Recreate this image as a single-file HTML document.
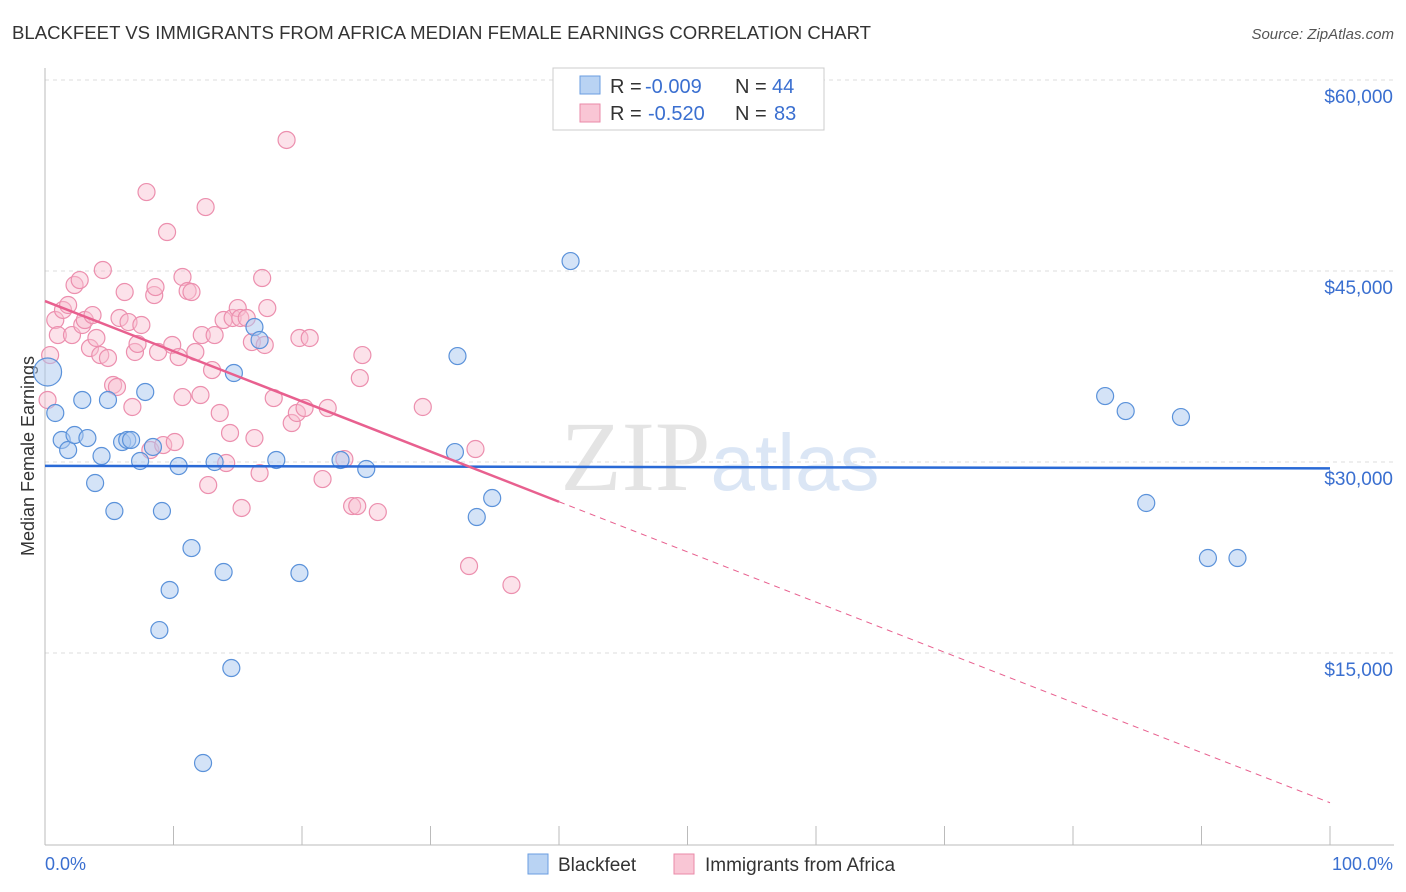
<!DOCTYPE html>
<html><head><meta charset="utf-8"><style>
body{margin:0;background:#fff;font-family:"Liberation Sans",sans-serif}
svg{display:block}
</style></head><body>
<svg id="chart" width="1406" height="892">
<text x="12" y="39" font-size="18" fill="#333" textLength="859" lengthAdjust="spacingAndGlyphs">BLACKFEET VS IMMIGRANTS FROM AFRICA MEDIAN FEMALE EARNINGS CORRELATION CHART</text>
<text x="1394" y="39" font-size="15" fill="#555" font-style="italic" text-anchor="end">Source: ZipAtlas.com</text>
<text x="34" y="456" font-size="18" fill="#333" text-anchor="middle" transform="rotate(-90 34 456)">Median Female Earnings</text>
<text x="720" y="490" font-size="100" fill="#e4e4e4" text-anchor="middle" font-family="Liberation Serif,serif">ZIP<tspan fill="#dbe6f5" font-family="Liberation Sans,sans-serif" font-size="80">atlas</tspan></text>
<g id="grid"></g><g id="marks"></g>
<g>
<rect x="553" y="68" width="271" height="62" fill="#fff" stroke="#ccc"/>
<rect x="580" y="76" width="20" height="18" fill="#b9d3f3" stroke="#6a9ee0"/>
<text x="610" y="93" font-size="20" fill="#333">R =</text>
<text x="645" y="93" font-size="20" fill="#3a6fd0">-0.009</text>
<text x="735" y="93" font-size="20" fill="#333">N =</text>
<text x="772" y="93" font-size="20" fill="#3a6fd0">44</text>
<rect x="580" y="104" width="20" height="18" fill="#f9c6d5" stroke="#ea8aa8"/>
<text x="610" y="120" font-size="20" fill="#333">R =</text>
<text x="648" y="120" font-size="20" fill="#3a6fd0">-0.520</text>
<text x="735" y="120" font-size="20" fill="#333">N =</text>
<text x="774" y="120" font-size="20" fill="#3a6fd0">83</text>
</g>
<g>
<rect x="528" y="854" width="20" height="20" fill="#b9d3f3" stroke="#6a9ee0"/>
<text x="558" y="871" font-size="19" fill="#333">Blackfeet</text>
<rect x="674" y="854" width="20" height="20" fill="#f9c6d5" stroke="#ea8aa8"/>
<text x="705" y="871" font-size="19" fill="#333">Immigrants from Africa</text>
</g>
<text x="45" y="870" font-size="18" fill="#3a6fd0">0.0%</text>
<text x="1393" y="870" font-size="18" fill="#3a6fd0" text-anchor="end">100.0%</text>
</svg>
<script>
const yTicks=[15000,30000,45000,60000];
const yTickLabels=["$15,000","$30,000","$45,000","$60,000"];
const blueX=[0.2,0.8,1.3,1.8,2.3,3.3,2.9,3.9,4.4,4.9,5.4,6.0,6.4,6.7,7.4,7.8,8.4,8.9,9.1,9.7,10.4,11.4,12.3,13.2,13.9,14.5,14.7,16.3,16.7,18.0,19.8,23.0,25.0,31.9,32.1,33.6,34.8,40.9,82.5,84.1,85.7,88.4,90.5,92.8];
const blueY=[37.07,33.85,31.73,30.94,32.12,31.88,34.87,28.35,30.47,34.87,26.15,31.57,31.73,31.73,30.08,35.5,31.18,16.8,26.15,19.95,29.68,23.24,6.36,30.0,21.36,13.82,36.99,40.6,39.58,30.16,21.28,30.16,29.45,30.78,38.32,25.68,27.17,45.78,35.18,34.0,26.78,33.53,22.46,22.46];
const pinkX=[0.2,0.4,0.8,1.0,1.4,1.8,2.1,2.3,2.7,2.9,3.1,3.5,3.7,4.0,4.3,4.5,4.9,5.3,5.6,5.8,6.2,6.5,6.8,7.0,7.2,7.5,7.9,8.2,8.5,8.6,8.8,9.2,9.5,9.9,10.1,10.4,10.7,10.7,11.1,11.4,11.7,12.1,12.2,12.5,12.7,13.0,13.2,13.6,13.9,14.1,14.4,14.6,15.0,15.2,15.3,15.7,16.1,16.3,16.7,16.9,17.1,17.3,17.8,18.8,19.2,19.6,19.8,20.2,20.6,21.6,22.0,23.3,23.9,24.3,24.7,24.5,25.9,29.4,33.0,33.5,36.3];
const pinkY=[34.87,38.4,41.15,39.97,41.94,42.33,39.97,43.9,44.29,40.76,41.15,38.95,41.54,39.74,38.4,45.08,38.17,36.05,35.89,41.31,43.35,40.99,34.32,38.64,39.27,40.76,51.2,30.94,43.11,43.74,38.64,31.33,48.06,39.19,31.57,38.24,35.1,44.53,43.43,43.35,38.64,35.26,39.97,50.02,28.19,37.22,39.97,33.85,41.15,29.92,32.28,41.31,42.09,41.31,26.39,41.31,39.42,31.88,29.13,44.45,39.19,42.09,35.02,55.29,33.06,33.85,39.74,34.24,39.74,28.66,34.24,30.23,26.54,26.54,38.4,36.59,26.07,34.32,21.83,31.02,20.34];
const blueTrend=[29.7,29.5];
const pinkTrend=[42.64,-0.394];
const pinkSolidEnd=40;
const X=p=>45+p*12.85, Y=v=>844-v*191/15;
const NS="http://www.w3.org/2000/svg";
function mk(t,a,p){const e=document.createElementNS(NS,t);for(const k in a)e.setAttribute(k,a[k]);p.appendChild(e);return e;}
const g=document.getElementById('grid'), m=document.getElementById('marks');
yTicks.forEach((t,i)=>{const y=Y(t/1000);
 const l=mk('line',{x1:45,x2:1394,y1:y,y2:y,stroke:'#ddd','stroke-dasharray':'4,4'},g);
 
 
 const tx=mk('text',{x:1393,y:y+23,'font-size':19,fill:'#3a6fd0','text-anchor':'end'},g);tx.textContent=yTickLabels[i];
 
 });
mk('line',{x1:45,x2:45,y1:68,y2:845,stroke:'#bbb'},g);
mk('line',{x1:45,x2:1394,y1:845,y2:845,stroke:'#bbb'},g);
for(let i=0;i<=10;i++){const t=mk('line',{x1:X(i*10),x2:X(i*10),y1:826,y2:845,stroke:'#bbb'},g);
 
 }
function dot(x,y,r,f,s){const c=mk('circle',{cx:X(x),cy:Y(y),r:r,fill:f,stroke:s,'stroke-width':1.2},m);return c;}
pinkX.forEach((x,i)=>{const c=dot(x,pinkY[i],8.5,'rgba(249,190,208,0.45)','#ec8fae');
 
 });
blueX.forEach((x,i)=>{const c=dot(x,blueY[i],i==0?14:8.5,'rgba(170,200,240,0.5)','#5b92da');
 
 });
const bl=mk('line',{x1:X(0),y1:Y(blueTrend[0]),x2:X(100),y2:Y(blueTrend[1]),stroke:'#2a6ad6','stroke-width':2.5},m);


const pf=p=>pinkTrend[0]+pinkTrend[1]*p;
const pl=mk('line',{x1:X(0),y1:Y(pf(0)),x2:X(pinkSolidEnd),y2:Y(pf(pinkSolidEnd)),stroke:'#e8608f','stroke-width':2.5},m);


const pd=mk('line',{x1:X(pinkSolidEnd),y1:Y(pf(pinkSolidEnd)),x2:X(100),y2:Y(pf(100)),stroke:'#e8608f','stroke-width':1,'stroke-dasharray':'6,5'},m);


</script>
</body></html>
